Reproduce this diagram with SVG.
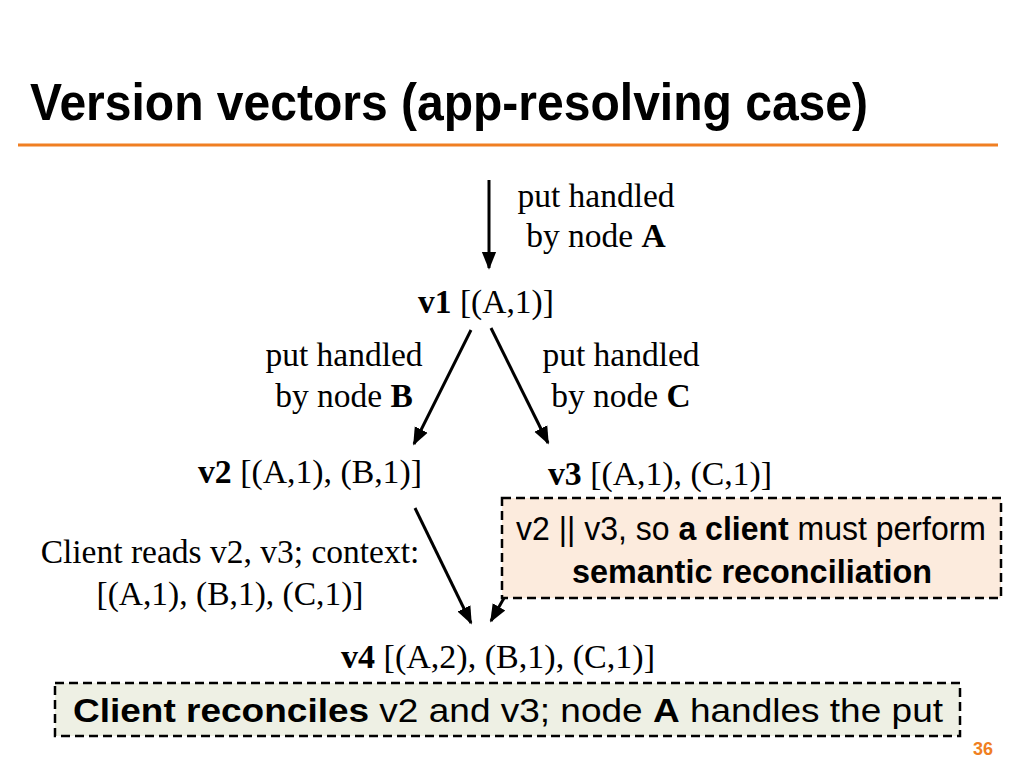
<svg xmlns="http://www.w3.org/2000/svg" width="1024" height="768" viewBox="0 0 1024 768">
<defs>
<marker id="ahb" viewBox="0 0 10 10" refX="9" refY="5" markerWidth="18" markerHeight="18" markerUnits="userSpaceOnUse" orient="auto"><path d="M0,1 L10,5 L0,9 z" fill="#000"/></marker>
<style>
.serif{font-family:"Liberation Serif","Times New Roman",serif;font-size:33.5px;fill:#000}
.sans{font-family:"Liberation Sans",Arial,sans-serif;fill:#000}
.conn{stroke:#000;stroke-width:3;fill:none;marker-end:url(#ahb)}
.box{stroke:#000;stroke-width:2.5;stroke-dasharray:9,5}
</style>
</defs>
<rect width="1024" height="768" fill="#fff"/>
<g id="title">
<text class="sans" x="30" y="120" font-size="52" font-weight="bold" textLength="838" lengthAdjust="spacingAndGlyphs">Version vectors (app-resolving case)</text>
<line x1="18" y1="145" x2="998" y2="145" stroke="#F07F22" stroke-width="3"/>
</g>
<g id="connectors">
<line class="conn" x1="489" y1="180" x2="489" y2="268"/>
<line class="conn" x1="471" y1="330" x2="414" y2="444"/>
<line class="conn" x1="491" y1="328" x2="548" y2="443"/>
<line class="conn" x1="415" y1="508" x2="471" y2="623"/>
<line class="conn" x1="504" y1="598" x2="491" y2="621"/>
</g>
<g id="label-a">
<text class="serif" x="596" y="207" text-anchor="middle">put handled</text>
<text class="serif" x="596" y="247" text-anchor="middle">by node <tspan font-weight="bold">A</tspan></text>
</g>
<g id="v1">
<text class="serif" x="486" y="313" text-anchor="middle"><tspan font-weight="bold">v1</tspan> [(A,1)]</text>
</g>
<g id="label-b">
<text class="serif" x="344" y="366" text-anchor="middle">put handled</text>
<text class="serif" x="344" y="407" text-anchor="middle">by node <tspan font-weight="bold">B</tspan></text>
</g>
<g id="label-c">
<text class="serif" x="621" y="366" text-anchor="middle">put handled</text>
<text class="serif" x="621" y="407" text-anchor="middle">by node <tspan font-weight="bold">C</tspan></text>
</g>
<g id="v2">
<text class="serif" x="198" y="483" textLength="224" lengthAdjust="spacingAndGlyphs"><tspan font-weight="bold">v2</tspan> [(A,1), (B,1)]</text>
</g>
<g id="v3">
<text class="serif" x="548" y="485" textLength="224" lengthAdjust="spacingAndGlyphs"><tspan font-weight="bold">v3</tspan> [(A,1), (C,1)]</text>
</g>
<g id="note-concurrent">
<rect class="box" x="502" y="498" width="499" height="100" fill="#FCEBDD"/>
<text class="sans" x="751" y="540" text-anchor="middle" font-size="34" textLength="470" lengthAdjust="spacingAndGlyphs">v2 || v3, so <tspan font-weight="bold">a client</tspan> must perform</text>
<text class="sans" x="752" y="583" text-anchor="middle" font-size="34" font-weight="bold" textLength="360" lengthAdjust="spacingAndGlyphs">semantic reconciliation</text>
</g>
<g id="label-client">
<text class="serif" x="230" y="563" text-anchor="middle">Client reads v2, v3; context:</text>
<text class="serif" x="230" y="605" text-anchor="middle">[(A,1), (B,1), (C,1)]</text>
</g>
<g id="v4">
<text class="serif" x="341" y="668" textLength="314" lengthAdjust="spacingAndGlyphs"><tspan font-weight="bold">v4</tspan> [(A,2), (B,1), (C,1)]</text>
</g>
<g id="note-reconcile">
<rect class="box" x="55" y="683" width="905" height="53" fill="#EEF0E4"/>
<text class="sans" x="508" y="722" text-anchor="middle" font-size="34" textLength="870" lengthAdjust="spacingAndGlyphs"><tspan font-weight="bold">Client reconciles</tspan> v2 and v3; node <tspan font-weight="bold">A</tspan> handles the put</text>
</g>
<g id="page">
<text class="sans" x="983" y="755" text-anchor="middle" font-size="18" font-weight="bold" style="fill:#F07F22">36</text>
</g>
</svg>
